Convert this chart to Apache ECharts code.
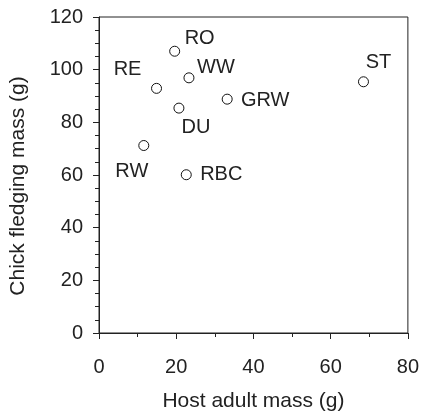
<!DOCTYPE html>
<html>
<head>
<meta charset="utf-8">
<script src="https://cdn.jsdelivr.net/npm/echarts@6/dist/echarts.min.js"></script>
<style>html,body{margin:0;padding:0;background:#fff}#c{width:422px;height:417px}</style>
</head>
<body>
<div id="c"></div>
<script>
var species = ['RO', 'WW', 'RE', 'GRW', 'DU', 'RW', 'RBC', 'ST'];
var hostMass = [19.6, 23.3, 14.9, 33.2, 20.7, 11.6, 22.6, 68.5];
var chickMass = [107.0, 96.9, 92.9, 88.8, 85.4, 71.2, 60.1, 95.4];
var xTicks = [0, 20, 40, 60, 80];
var yTicks = [0, 20, 40, 60, 80, 100, 120];

// label placement (pixel offsets from marker centre)
var labelOffsets = {
  RO: [25, -13], WW: [27, -10], RE: [-29, -19], GRW: [38, 1],
  DU: [17, 19], RW: [-12, 26], RBC: [35, 0], ST: [15, -19]
};

var font = 'Liberation Sans, Arial, sans-serif';
var ink = '#222';

var data = species.map(function (s, i) {
  return {
    name: s,
    value: [hostMass[i], chickMass[i]],
    label: { offset: labelOffsets[s] }
  };
});

var chart = echarts.init(document.getElementById('c'));
chart.setOption({
  animation: false,
  grid: { left: 98, top: 17, right: 13, bottom: 80, show: true, borderColor: ink, borderWidth: 1 },
  xAxis: {
    type: 'value', min: xTicks[0], max: xTicks[xTicks.length - 1], interval: 20,
    name: 'Host adult mass (g)', nameLocation: 'middle', nameGap: 58,
    nameTextStyle: { fontFamily: font, fontSize: 21, color: ink },
    axisLine: { show: true, lineStyle: { color: ink, width: 1 } },
    axisTick: { show: true, length: 6, lineStyle: { color: ink } },
    minorTick: { show: true, splitNumber: 2, length: 4, lineStyle: { color: ink } },
    axisLabel: { fontFamily: font, fontSize: 20, color: ink, margin: 24 },
    splitLine: { show: false }
  },
  yAxis: {
    type: 'value', min: yTicks[0], max: yTicks[yTicks.length - 1], interval: 20,
    name: 'Chick fledging mass (g)', nameLocation: 'middle', nameGap: 70,
    nameTextStyle: { fontFamily: font, fontSize: 21, color: ink, padding: [0, 22, 0, 0] },
    axisLine: { show: true, lineStyle: { color: ink, width: 1 } },
    axisTick: { show: true, length: 6, lineStyle: { color: ink } },
    minorTick: { show: true, splitNumber: 4, length: 4, lineStyle: { color: ink } },
    axisLabel: { fontFamily: font, fontSize: 20, color: ink, margin: 16 },
    splitLine: { show: false }
  },
  series: [{
    type: 'scatter',
    symbol: 'circle',
    symbolSize: 10,
    itemStyle: { color: '#fff', borderColor: '#111', borderWidth: 1, opacity: 1 },
    label: {
      show: true, position: 'inside', formatter: '{b}',
      fontFamily: font, fontSize: 20, color: ink
    },
    data: data
  }]
});
</script>
</body>
</html>
